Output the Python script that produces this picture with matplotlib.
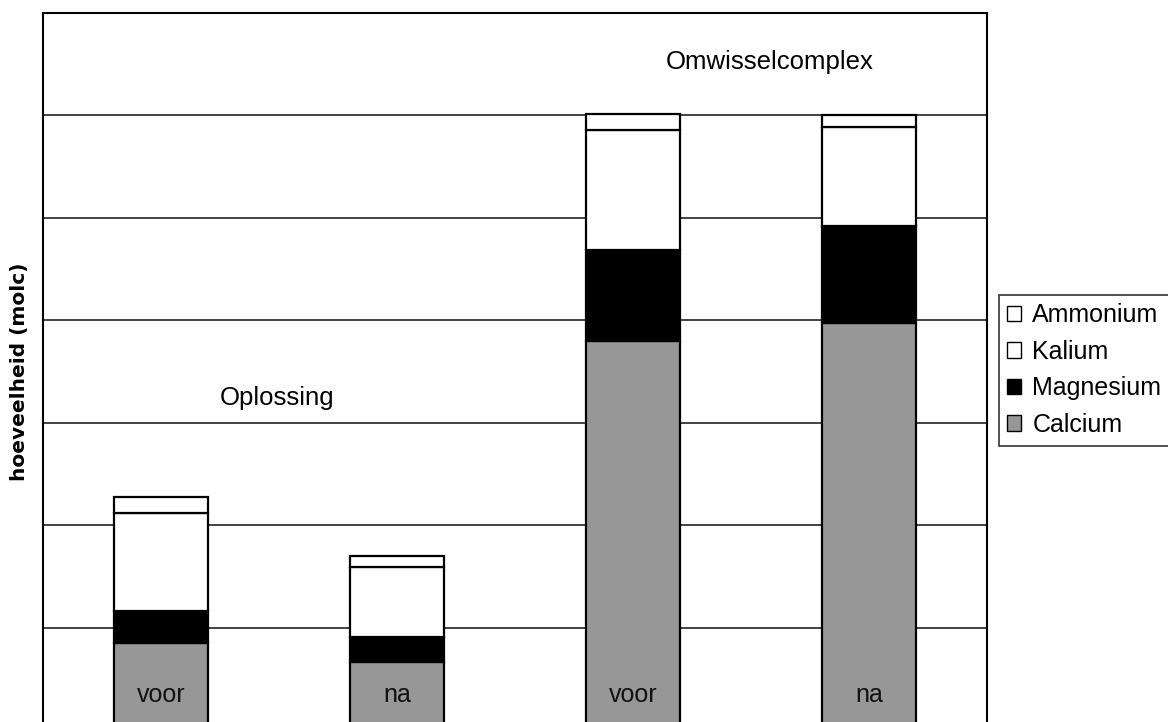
import matplotlib
matplotlib.use("Agg")
import matplotlib.pyplot as plt
import numpy as np

# Cation amounts per stage (molc), stacked bottom to top
groups = ["Oplossing", "Oplossing", "Omwisselcomplex", "Omwisselcomplex"]
stages = ["voor", "na", "voor", "na"]
calcium = [0.85, 0.66, 3.80, 3.97]
magnesium = [0.31, 0.25, 0.89, 0.95]
kalium = [0.96, 0.68, 1.17, 0.965]
ammonium = [0.15, 0.11, 0.15, 0.12]

series_names = ["Calcium", "Magnesium", "Kalium", "Ammonium"]
series_values = [calcium, magnesium, kalium, ammonium]
series_colors = ["#979797", "#000000", "#ffffff", "#ffffff"]

plt.rcParams["font.family"] = ["Liberation Sans", "DejaVu Sans"]

fig = plt.figure(figsize=(11.68, 7.22), dpi=100)
ax = fig.add_axes([0.0368, -0.0111, 0.8082, 0.9931])

x = np.arange(len(stages))
bottom = np.zeros(len(stages))
handles = []
for name, vals, col in zip(series_names, series_values, series_colors):
    b = ax.bar(x, vals, width=0.40, bottom=bottom, color=col,
               edgecolor="black", linewidth=1.6, label=name, zorder=3)
    handles.append(b)
    bottom += np.array(vals)

ax.set_xlim(-0.5, 3.5)
ax.set_ylim(0, 7)
ax.set_yticks([1, 2, 3, 4, 5, 6])
ax.set_yticklabels([])
ax.tick_params(axis="y", length=0)
ax.set_xticks([])
ax.grid(axis="y", color="#222222", linewidth=1.2, zorder=0)
for s in ax.spines.values():
    s.set_color("black")
    s.set_linewidth(1.5)

# stage labels inside the bars
for xi, st in zip(x, stages):
    ax.text(xi, 0.34, st, ha="center", va="center", fontsize=18, color="#111111", zorder=4)

# group labels
ax.text(0.49, 3.24, "Oplossing", ha="center", va="center", fontsize=18.5)
ax.text(2.58, 6.52, "Omwisselcomplex", ha="center", va="center", fontsize=18.5)

ax.set_ylabel("hoeveelheid (molc)", fontsize=14.5, fontweight="bold",
              family="DejaVu Sans")
ax.yaxis.set_label_coords(-0.015, 0.5)

leg = fig.legend(handles[::-1], series_names[::-1], loc="upper left",
                 bbox_to_anchor=(0.855, 0.592), bbox_transform=fig.transFigure,
                 fontsize=18, frameon=True, fancybox=False, edgecolor="black",
                 handlelength=0.55, handleheight=0.55, handletextpad=0.45,
                 labelspacing=0.5, borderpad=0.35, borderaxespad=0)
leg.get_frame().set_linewidth(1.2)
for h in leg.legend_handles:
    h.set_linewidth(1.0)

fig.savefig("out.png", dpi=100)
